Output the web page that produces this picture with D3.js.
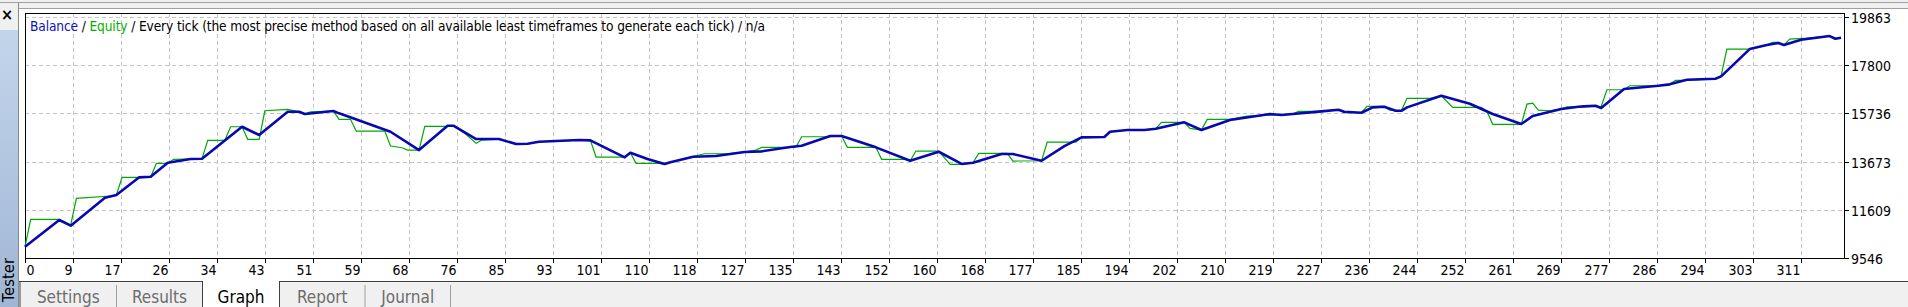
<!DOCTYPE html>
<html lang="en">
<head>
<meta charset="UTF-8">
<script src="https://d3js.org/d3.v7.min.js"></script>
<title>Tester - Graph</title>
<style>
  html, body { margin: 0; padding: 0; background: #f0f0f0; overflow: hidden; }
  svg { display: block; }
  text { font-family: "DejaVu Sans Condensed", "DejaVu Sans", sans-serif; font-stretch: condensed; }
  .axis text { font-size: 14px; fill: #000; }
  .tab text { font-size: 17px; }
</style>
</head>
<body>
<script>
  // x axis labels (trade number) and y axis labels (account value)
  const xTickLabels = [0, 9, 17, 26, 34, 43, 51, 59, 68, 76, 85, 93, 101, 110, 118, 127, 135, 143, 152,
    160, 168, 177, 185, 194, 202, 210, 219, 227, 236, 244, 252, 261, 269, 277, 286, 294, 303, 311];
  const yTickValues = [9546, 11609, 13673, 15736, 17800, 19863];

  // [trade #, balance]
  const balance = [[0,10018],[6,11163],[8,10919],[14,12120],[16,12236],[20,12995],[22,13021],[25,13622],
    [29,13780],[31,13793],[38,15166],[41,14810],[46,15809],[48,15809],[49,15711],[54,15839],[55,15741],
    [64,14951],[69,14166],[74,15209],[75,15209],[79,14638],[83,14638],[86,14424],[88,14437],[90,14522],
    [97,14595],[99,14582],[105,13853],[106,14051],[109,13780],[112,13566],[113,13639],[117,13879],
    [121,13909],[126,14080],[129,14110],[134,14295],[136,14351],[141,14767],[143,14767],[149,14282],
    [155,13707],[160,14093],[164,13570],[166,13622],[171,13995],[173,13995],[178,13707],[182,14338],
    [185,14711],[189,14724],[190,14951],[193,15024],[196,15024],[198,15080],[203,15355],[206,15024],
    [211,15453],[218,15711],[220,15668],[222,15711],[227,15826],[230,15895],[231,15809],[234,15766],
    [236,15998],[238,16024],[240,15852],[241,15852],[242,15998],[248,16496],[253,16153],[257,15711],
    [262,15282],[264,15625],[269,15925],[272,16024],[273,16041],[275,16067],[276,15968],[280,16783],
    [286,16925],[288,16985],[291,17182],[296,17225],[297,17328],[302,18499],[305,18671],[307,18757],
    [308,18671],[311,18898],[316,19057],[317,18941],[318,18984]];

  // [trade #, equity]
  const equity = [[0,10018],[1,11193],[6,11193],[8,10949],[9,12094],[15,12193],[16,12236],[17,12995],
    [22,12995],[23,13596],[25,13596],[26,13767],[31,13793],[32,14582],[35,14582],[36,15166],[38,15166],
    [39,14625],[41,14625],[42,15852],[46,15912],[48,15809],[49,15711],[50,15809],[54,15839],[55,15483],
    [57,15483],[58,14981],[63,14981],[64,14338],[66,14265],[67,14166],[69,14166],[70,15183],[74,15183],
    [75,15209],[77,14883],[79,14454],[80,14595],[83,14638],[86,14424],[88,14437],[90,14522],[97,14595],
    [99,14582],[100,13866],[105,13866],[106,14051],[107,13596],[111,13596],[112,13566],[113,13639],
    [116,13836],[119,14008],[123,14008],[126,14080],[128,14166],[129,14282],[134,14282],[135,14295],
    [136,14737],[141,14737],[143,14767],[144,14282],[149,14282],[150,13767],[154,13767],[155,13707],
    [156,14123],[160,14123],[162,13553],[164,13553],[166,13622],[167,14025],[172,14025],[173,13694],
    [178,13707],[179,14510],[184,14510],[185,14711],[189,14724],[190,14951],[193,15024],[196,15024],
    [198,15080],[199,15355],[203,15355],[204,15097],[206,15024],[207,15483],[211,15483],[214,15625],
    [218,15668],[222,15711],[223,15826],[227,15826],[230,15895],[231,15766],[234,15766],[235,16041],
    [238,16041],[239,15882],[241,15852],[242,16384],[246,16384],[248,16496],[250,15998],[255,15998],
    [256,15822],[257,15269],[262,15269],[263,16140],[264,16183],[265,15882],[267,15852],[269,15925],
    [270,16024],[272,16024],[276,16041],[277,16753],[280,16753],[281,16925],[286,16925],[288,16985],
    [289,17157],[291,17157],[296,17225],[297,17354],[298,18499],[302,18499],[305,18671],[306,18787],
    [307,18787],[308,18671],[309,18928],[312,18971],[316,19057],[317,18941],[318,18984]];

  const tabs = ["Settings", "Results", "Graph", "Report", "Journal"];
  const activeTab = "Graph";

  const width = 1908, height = 307;
  const plot = { left: 25, right: 1844, top: 13, bottom: 258 };
  const tickStep = 8.405; // trades between vertical grid lines

  const svg = d3.select("body").append("svg")
    .attr("width", width)
    .attr("height", height);

  // window chrome
  svg.append("rect").attr("width", width).attr("height", height).attr("fill", "#f0f0f0");
  svg.append("rect").attr("x", 19).attr("y", 9).attr("width", width - 19).attr("height", 273).attr("fill", "#fff");
  svg.append("line").attr("x1", 0).attr("x2", width).attr("y1", 2.5).attr("y2", 2.5).attr("stroke", "#a0a0a0");
  svg.append("line").attr("x1", 19).attr("x2", width).attr("y1", 8.5).attr("y2", 8.5).attr("stroke", "#a0a0a0");

  const grad = svg.append("defs").append("linearGradient")
    .attr("id", "side").attr("x1", 0).attr("y1", 0).attr("x2", 0).attr("y2", 1);
  grad.append("stop").attr("offset", "0%").attr("stop-color", "#c3d5eb");
  grad.append("stop").attr("offset", "100%").attr("stop-color", "#9fb6d5");
  svg.append("rect").attr("x", 0).attr("y", 30).attr("width", 18).attr("height", height - 30).attr("fill", "url(#side)");
  svg.append("line").attr("x1", 18.5).attr("x2", 18.5).attr("y1", 3).attr("y2", height).attr("stroke", "#8a8a8a");
  svg.append("text").attr("x", 7).attr("y", 20).attr("text-anchor", "middle")
    .style("font-size", "16px").style("font-weight", "bold").text("×");
  svg.append("text").attr("transform", "translate(14,258) rotate(-90)").attr("text-anchor", "end")
    .style("font-size", "16.5px").text("Tester");

  // scales
  const x = d3.scaleLinear().domain([0, (plot.right - plot.left) * tickStep / 48]).range([plot.left, plot.right]);
  const y = d3.scaleLinear().domain([yTickValues[0], yTickValues[yTickValues.length - 1]]).range([257.7, 17.3]);

  // grid
  const grid = svg.append("g").attr("stroke", "#c4c4c4").attr("stroke-dasharray", "4,3");
  xTickLabels.forEach((lab, i) => {
    if (i === 0) return;
    const gx = Math.round(x(i * tickStep)) + 0.5;
    grid.append("line").attr("x1", gx).attr("x2", gx).attr("y1", plot.top).attr("y2", plot.bottom);
  });
  yTickValues.forEach((v, i) => {
    if (i === 0) return;
    const gy = Math.round(y(v)) + 0.5;
    grid.append("line").attr("x1", plot.left).attr("x2", plot.right).attr("y1", gy).attr("y2", gy);
  });

  // frame
  svg.append("rect").attr("x", plot.left + 0.5).attr("y", plot.top + 0.5)
    .attr("width", plot.right - plot.left).attr("height", plot.bottom - plot.top)
    .attr("fill", "none").attr("stroke", "#000");

  // x axis
  const xAxis = svg.append("g").attr("class", "axis");
  xTickLabels.forEach((lab, i) => {
    const gx = Math.round(x(i * tickStep)) + 0.5;
    xAxis.append("line").attr("x1", gx).attr("x2", gx).attr("y1", plot.bottom).attr("y2", plot.bottom + 5).attr("stroke", "#000");
    xAxis.append("text")
      .attr("x", i === 0 ? gx + 1 : gx - 1)
      .attr("y", 275)
      .attr("text-anchor", i === 0 ? "start" : "end")
      .text(lab);
  });

  // y axis
  const yAxis = svg.append("g").attr("class", "axis");
  yTickValues.forEach(v => {
    const gy = Math.round(y(v)) + 0.5;
    yAxis.append("line").attr("x1", plot.right).attr("x2", plot.right + 5).attr("y1", gy).attr("y2", gy).attr("stroke", "#000");
    yAxis.append("text").attr("x", 1851).attr("y", gy).attr("dy", "0.36em").text(v);
  });

  // curves
  const line = d3.line().x(d => x(d[0])).y(d => y(d[1]));
  svg.append("path").datum(equity).attr("d", line)
    .attr("fill", "none").attr("stroke", "#00a800").attr("stroke-width", 1.2);
  svg.append("path").datum(balance).attr("d", line)
    .attr("fill", "none").attr("stroke", "#0808b0").attr("stroke-width", 2.6).attr("stroke-linejoin", "round");

  // title
  const title = svg.append("text").attr("x", 30).attr("y", 31)
    .style("font-size", "13.6px").style("letter-spacing", "-0.12px");
  title.append("tspan").attr("fill", "#1010c0").text("Balance");
  title.append("tspan").attr("fill", "#000").text(" / ");
  title.append("tspan").attr("fill", "#00b000").text("Equity");
  title.append("tspan").attr("fill", "#000")
    .text(" / Every tick (the most precise method based on all available least timeframes to generate each tick) / n/a");

  // tab strip
  const tabEdges = [20, 116.5, 202.5, 279.5, 365, 450.5];
  svg.append("line").attr("x1", 19).attr("x2", width).attr("y1", 281.5).attr("y2", 281.5).attr("stroke", "#404040");
  tabs.forEach((t, i) => {
    const g = svg.append("g").attr("class", "tab");
    const x0 = tabEdges[i], x1 = tabEdges[i + 1];
    if (t === activeTab) {
      g.append("rect").attr("x", x0).attr("y", 281).attr("width", x1 - x0).attr("height", 26).attr("fill", "#fff");
      g.append("line").attr("x1", x0).attr("x2", x0).attr("y1", 281).attr("y2", height).attr("stroke", "#404040");
      g.append("line").attr("x1", x1).attr("x2", x1).attr("y1", 281).attr("y2", height).attr("stroke", "#404040");
    } else if (i > 0 && tabs[i - 1] !== activeTab) {
      g.append("line").attr("x1", x0).attr("x2", x0).attr("y1", 285).attr("y2", height).attr("stroke", "#a0a0a0");
    }
    g.append("text").attr("x", (x0 + x1) / 2).attr("y", 302.5).attr("text-anchor", "middle")
      .attr("fill", t === activeTab ? "#000" : "#6d6d6d").text(t);
  });
  svg.append("line").attr("x1", 450.5).attr("x2", 450.5).attr("y1", 285).attr("y2", height).attr("stroke", "#a0a0a0");
  svg.append("line").attr("x1", 20).attr("x2", 20).attr("y1", 281).attr("y2", height).attr("stroke", "#404040");
</script>
</body>
</html>
